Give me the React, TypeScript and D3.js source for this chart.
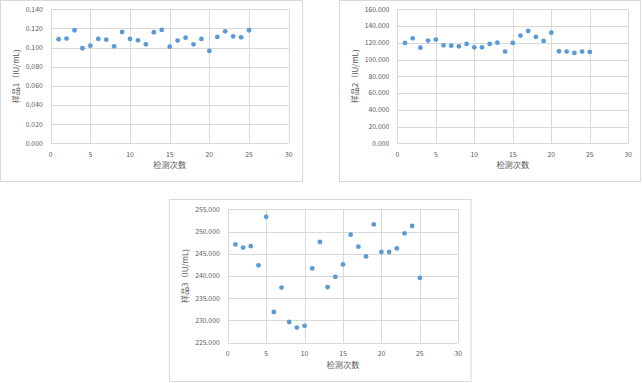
import React from "react";
import * as d3 from "d3";

const runs = d3.range(1, 26);
const sample1 = [0.1087, 0.1094, 0.1181, 0.0993, 0.102, 0.109, 0.1083, 0.1013, 0.1163, 0.109, 0.1076, 0.1034, 0.116, 0.1184, 0.101, 0.1073, 0.1104, 0.1034, 0.109, 0.0965, 0.1111, 0.117, 0.1118, 0.1107, 0.1181];
const sample2 = [119.8, 125.4, 114.2, 122.6, 123.8, 117.0, 116.6, 115.8, 118.6, 114.6, 114.6, 118.6, 120.2, 109.5, 119.8, 128.6, 134.1, 127.0, 122.2, 132.1, 109.9, 109.5, 107.9, 109.5, 109.1];
const sample3 = [247.1, 246.4, 246.7, 242.4, 253.3, 231.9, 237.4, 229.65, 228.4, 228.8, 241.7, 247.65, 237.5, 239.8, 242.6, 249.3, 246.6, 244.4, 251.6, 245.4, 245.4, 246.2, 249.6, 251.25, 239.6];
const xTicks = [0, 5, 10, 15, 20, 25, 30];
const yTicks1 = [0, 0.02, 0.04, 0.06, 0.08, 0.1, 0.12, 0.14];
const yTicks2 = [0, 20, 40, 60, 80, 100, 120, 140, 160];
const yTicks3 = [225, 230, 235, 240, 245, 250, 255];
const xTitle = "检测次数";

const FONT = "'Noto Sans CJK SC', 'Noto Sans', sans-serif";
const TXT = "#595959";
const GRID = "#d9d9d9";
const DOT = "#5b9bd5";

type ChartProps = {
  frame: [number, number, number, number];
  plot: [number, number, number, number]; // x0, x1, yTop, yBottom
  values: number[];
  yTicks: number[];
  fmt: (v: number) => string;
  yTitle: string;
};

function Chart({ frame, plot, values, yTicks, fmt, yTitle }: ChartProps) {
  const [x0, x1, yT, yB] = plot;
  const x = d3.scaleLinear().domain([0, 30]).range([x0, x1]);
  const y = d3.scaleLinear().domain([yTicks[0], yTicks[yTicks.length - 1]]).range([yB, yT]);
  return (
    <g>
      <rect x={frame[0]} y={frame[1]} width={frame[2]} height={frame[3]} fill="#fff" stroke={GRID} strokeWidth={1} />
      {yTicks.map((t) => (
        <line key={"h" + t} x1={x0} x2={x1} y1={Math.round(y(t)) + 0.5} y2={Math.round(y(t)) + 0.5} stroke={GRID} strokeWidth={1} />
      ))}
      {xTicks.map((t) => (
        <line key={"v" + t} x1={Math.round(x(t)) + 0.5} x2={Math.round(x(t)) + 0.5} y1={yT} y2={yB} stroke={GRID} strokeWidth={1} />
      ))}
      {yTicks.map((t) => (
        <text key={"yt" + t} x={x0 - 8} y={y(t)} dy="0.35em" textAnchor="end" fontSize={6.8} fill={TXT} fontFamily={FONT}>
          {fmt(t)}
        </text>
      ))}
      {xTicks.map((t) => (
        <text key={"xt" + t} x={x(t)} y={yB + 11} dy="0.35em" textAnchor="middle" fontSize={6.8} fill={TXT} fontFamily={FONT}>
          {t}
        </text>
      ))}
      <text x={(x0 + x1) / 2} y={yB + 22} dy="0.35em" textAnchor="middle" fontSize={8.2} fill={TXT} fontFamily={FONT}>
        {xTitle}
      </text>
      <text
        transform={`translate(${frame[0] + 16},${(yT + yB) / 2}) rotate(-90)`}
        dy="0.35em"
        textAnchor="middle"
        fontSize={8}
        fill={TXT}
        fontFamily={FONT}
      >
        {yTitle}
      </text>
      {values.map((v, i) => (
        <circle key={i} cx={x(runs[i])} cy={y(v)} r={2.4} fill={DOT} />
      ))}
    </g>
  );
}

export default function App() {
  return (
    <svg width={643} height={383} style={{ position: "absolute", left: 0, top: 0, background: "#fff" }}>
      <Chart
        frame={[0.5, 0.5, 302, 181]}
        plot={[50.7, 288.7, 9.3, 143.3]}
        values={sample1}
        yTicks={yTicks1}
        fmt={(v) => v.toFixed(3)}
        yTitle="样品1（IU/mL)"
      />
      <Chart
        frame={[339.5, 0.5, 301, 181]}
        plot={[397.3, 628.3, 9.3, 143.3]}
        values={sample2}
        yTicks={yTicks2}
        fmt={(v) => v.toFixed(3)}
        yTitle="样品2（IU/mL)"
      />
      <Chart
        frame={[169.5, 199.5, 301.5, 182]}
        plot={[227.7, 458.3, 209.3, 342.7]}
        values={sample3}
        yTicks={yTicks3}
        fmt={(v) => v.toFixed(3)}
        yTitle="样品3（IU/mL)"
      />
    </svg>
  );
}
